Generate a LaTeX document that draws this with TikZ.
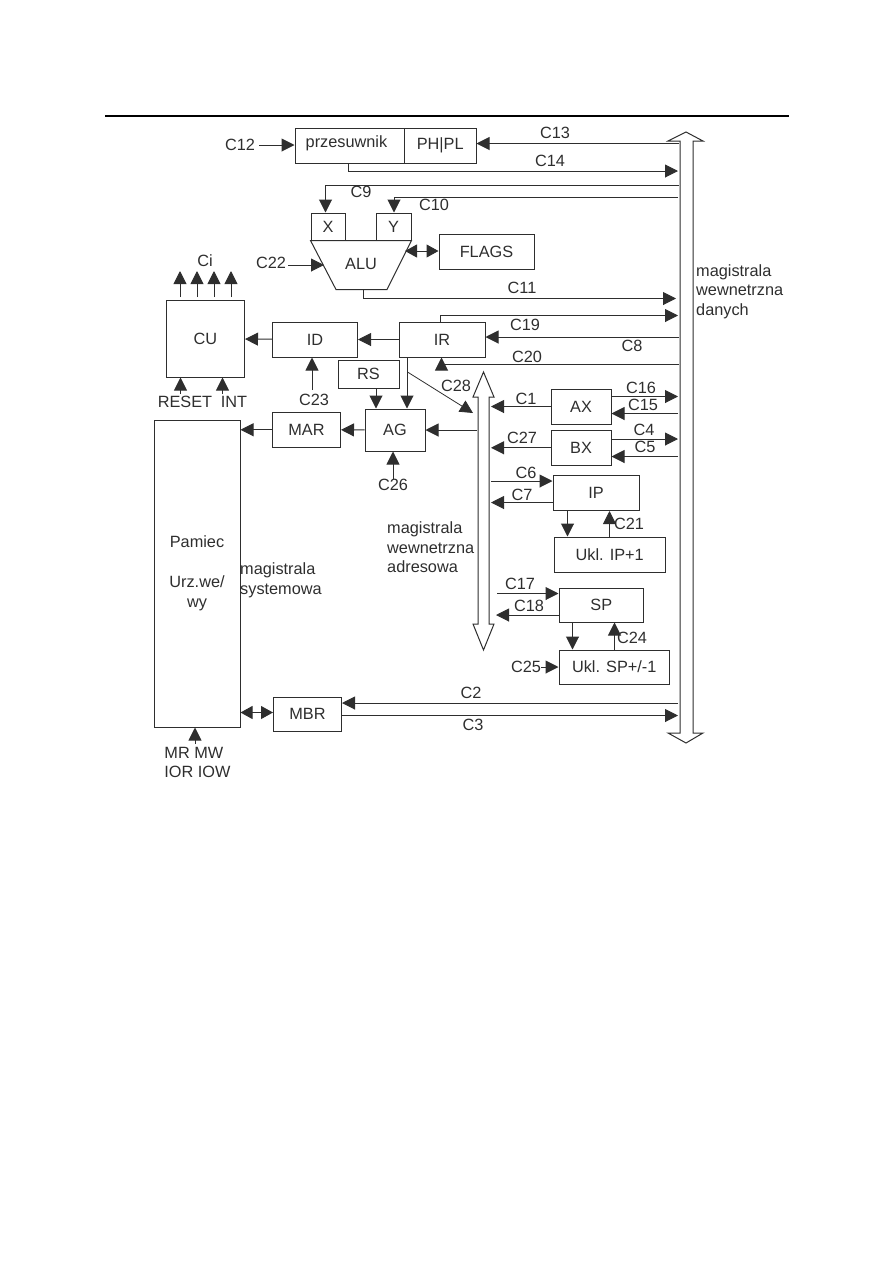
\documentclass[tikz,border=0pt]{standalone}
\usepackage{fontspec}
\setmainfont{Liberation Sans}
\usetikzlibrary{arrows.meta}
\colorlet{ink}{black!82}
\tikzset{
	box/.style={draw=ink,line width=1pt,text=ink,inner sep=0pt,font=\fontsize{16.3}{19.5}\selectfont},
	lbl/.style={text=ink,inner sep=0pt,font=\fontsize{16.3}{19.5}\selectfont,align=center},
	txt/.style={lbl,align=left,anchor=west},
	conn/.style={draw=ink,line width=1pt},
	arr/.style={conn,-{Triangle[length=13pt,width=13pt]}},
	both/.style={conn,{Triangle[length=12pt,width=13pt]}-{Triangle[length=12pt,width=13pt]}},
	bus/.style={draw=ink,line width=1pt,line join=miter,fill=white}
}
\begin{document}
\begin{tikzpicture}[x=1pt,y=-1pt]
	\useasboundingbox (0,0) rectangle (893,1262);
	\coordinate (ruleleft) at (105,115.5);
	\coordinate (ruleright) at (789,115.5);
	\draw[black,line width=2pt] (ruleleft) -- (ruleright);

	\draw[bus] (680,141) -- (668,141) -- (686,132) -- (703,141) -- (693,141) -- (693,733) -- (703,733) -- (686,743) -- (668,733) -- (680,733) -- cycle;
	\draw[bus] (478,397) -- (473,397) -- (483.5,372) -- (494,397) -- (489,397) -- (489,624) -- (494,624) -- (483.5,650) -- (473,624) -- (478,624) -- cycle;
	\coordinate (busd) at (679,0);
	\coordinate (busdr) at (678,0);
	\coordinate (busa) at (491,0);
	\coordinate (busal) at (477,0);

	\node[box,minimum width=109.5,minimum height=35] (prz) at (349.75,145.5) {};
	\node[lbl] (prztxt) at (346.5,143) {przesuwnik};
	\node[box,minimum width=71.5,minimum height=35] (ph) at (440.25,145.5) {PH|PL};
	\node[box,minimum width=34,minimum height=27] (x) at (328,226.5) {X};
	\node[box,minimum width=35,minimum height=27] (y) at (393.5,226.5) {Y};
	\coordinate (alusw) at (336,289.5);
	\coordinate (aluse) at (387,289.5);
	\coordinate (aluw) at (324,265);
	\draw[conn,line join=miter] (x.south west) -- (alusw) -- (aluse) -- (y.south east) -- cycle;
	\node[lbl] (alu) at (361,264) {ALU};
	\node[box,minimum width=95,minimum height=35] (flags) at (486.5,251.5) {FLAGS};
	\node[box,minimum width=78,minimum height=76.5] (cu) at (205.5,338.75) {CU};
	\node[box,minimum width=85,minimum height=35] (id) at (315,339.5) {ID};
	\node[box,minimum width=86,minimum height=35] (ir) at (442,339.5) {IR};
	\node[box,minimum width=61,minimum height=27.5] (rs) at (368.5,374.25) {RS};
	\node[box,minimum width=68,minimum height=34.5] (mar) at (306.5,429.75) {MAR};
	\node[box,minimum width=60,minimum height=42] (ag) at (395,430) {AG};
	\node[box,minimum width=86,minimum height=306.5] (mem) at (197,573.75) {};
	\node[box,minimum width=68,minimum height=34.5] (mbr) at (307.5,714.25) {MBR};
	\node[box,minimum width=60,minimum height=35] (ax) at (581,406.5) {AX};
	\node[box,minimum width=60,minimum height=35.5] (bx) at (581,447.75) {BX};
	\node[box,minimum width=86,minimum height=35] (ip) at (596,493) {IP};
	\node[box,minimum width=110.5,minimum height=35.5] (uip) at (609.75,554.75) {Ukl. IP+1};
	\node[box,minimum width=84.5,minimum height=34] (sp) at (601.25,605) {SP};
	\node[box,minimum width=110.5,minimum height=34] (usp) at (614.25,667) {Ukl. SP+/-1};

	\node[lbl] (c12) at (240,145) {C12};
	\node[lbl] (c13) at (555,133) {C13};
	\node[lbl] (c14) at (550,161) {C14};
	\node[lbl] (c9) at (361,192) {C9};
	\node[lbl] (c10) at (434,205) {C10};
	\node[lbl] (c22) at (271,263) {C22};
	\node[lbl] (c11) at (522,288) {C11};
	\node[lbl] (c19) at (525,325) {C19};
	\node[lbl] (c8) at (632,346) {C8};
	\node[lbl] (c20) at (527,357) {C20};
	\node[lbl] (c23) at (314,400) {C23};
	\node[lbl] (ci) at (205,261) {Ci};
	\node[lbl] (reset) at (185,402) {RESET};
	\node[lbl] (int) at (234,402) {INT};
	\node[lbl] (c28) at (456,386) {C28};
	\node[lbl] (c26) at (393,485) {C26};
	\node[lbl] (c1) at (526,399) {C1};
	\node[lbl] (c27) at (522,438) {C27};
	\node[lbl] (c16) at (641,388) {C16};
	\node[lbl] (c15) at (643,405) {C15};
	\node[lbl] (c4) at (644,430) {C4};
	\node[lbl] (c5) at (645,447) {C5};
	\node[lbl] (c6) at (526,473) {C6};
	\node[lbl] (c7) at (522,495) {C7};
	\node[lbl] (c21) at (629,524) {C21};
	\node[lbl] (c17) at (520,584) {C17};
	\node[lbl] (c18) at (529,606) {C18};
	\node[lbl] (c24) at (632,638) {C24};
	\node[lbl] (c25) at (526,667) {C25};
	\node[lbl] (c2) at (471,693) {C2};
	\node[lbl] (c3) at (473,725) {C3};
	\node[lbl] (pam) at (197,542) {Pamiec};
	\node[lbl] (urz) at (197,593.5) {Urz.we/\\wy};
	\node[lbl,align=left] (mrw) at (197.5,762.5) {MR MW\\IOR IOW};
	\node[txt] (sysb) at (240,580.5) {magistrala\\systemowa};
	\node[txt] (adrb) at (387,547.5) {magistrala\\wewnetrzna\\adresowa};
	\node[txt] (datb) at (696,291.5) {magistrala\\wewnetrzna\\danych};

	\coordinate (xa) at (325.5,185);
	\coordinate (ya) at (394,197);
	\coordinate (pza) at (348,171);
	\coordinate (ala) at (363,298.5);
	\coordinate (ira) at (440.5,315.5);
	\coordinate (irb) at (441.5,364);
	\coordinate (d1) at (407.5,372);
	\coordinate (d2) at (473,413);
	\coordinate (fl) at (405,251);
	\coordinate (i1) at (567.5,0);
	\coordinate (i2) at (609.5,0);
	\coordinate (s1) at (572.5,0);
	\coordinate (s2) at (614.5,0);
	\coordinate (ig) at (407,0);
	\coordinate (rg) at (376,0);
	\coordinate (c17a) at (497,593.5);
	\coordinate (c18a) at (496,615);
	\coordinate (c23a) at (312,390);
	\coordinate (k1) at (180,297);
	\coordinate (k2) at (197,297);
	\coordinate (k3) at (214,297);
	\coordinate (k4) at (231,297);
	\coordinate (r1) at (180.5,394);
	\coordinate (r2) at (222.5,394);
	\coordinate (mw) at (195,744);

	\draw[arr] (c12.east) ++(4,0) -- (c12.east -| prz.west);
	\draw[arr] (busd |- 0,143.5) -- (ph.east |- 0,143.5);
	\draw[arr] (prz.south -| pza) -- (pza) -- (pza -| busdr);
	\draw[conn] (xa -| busd) -- (xa);
	\draw[arr] (xa) -- (xa |- x.north);
	\draw[conn] (ya -| busdr) -- (ya);
	\draw[arr] (ya) -- (ya |- y.north);
	\draw[both] (fl) -- (fl -| flags.west);
	\draw[arr] (c22.east) ++(2,2) -- (aluw);
	\draw[arr] (aluse -| ala) -- (ala) -- (ala -| 676,0);
	\draw[arr] (ir.north -| ira) -- (ira) -- (ira -| busdr);
	\draw[arr] (busd |- 0,337) -- (ir.east |- 0,337);
	\draw[conn] (irb -| busd) -- (irb);
	\draw[arr] (irb) -- (irb |- ir.south);
	\draw[arr] (ir) -- (id);
	\draw[arr] (id) -- (cu);
	\draw[arr] (c23a) -- (c23a |- id.south);
	\draw[arr] (k1) -- (k1 |- 0,271);
	\draw[arr] (k2) -- (k2 |- 0,271);
	\draw[arr] (k3) -- (k3 |- 0,271);
	\draw[arr] (k4) -- (k4 |- 0,271);
	\draw[arr] (r1) -- (r1 |- cu.south);
	\draw[arr] (r2) -- (r2 |- cu.south);
	\draw[arr] (rg |- rs.south) -- (rg |- ag.north);
	\draw[arr] (ig |- ir.south) -- (ig |- ag.north);
	\draw[conn,-{Triangle[length=13pt,width=13pt]},line width=.8pt] (d1) -- (d2);
	\draw[arr] (busal |- ag.east) -- (ag.east);
	\draw[arr] (ag) -- (mar);
	\draw[arr] (mar) -- (mem.east |- mar);
	\draw[arr] (c26.north) -- (c26.north |- ag.south);
	\draw[arr] (ax.west) -- (busa |- ax.west);
	\draw[arr] (bx.west) -- (busa |- bx.west);
	\draw[arr] (ax.east |- 0,396.5) -- (busdr |- 0,396.5);
	\draw[arr] (busdr |- 0,413.5) -- (ax.east |- 0,413.5);
	\draw[arr] (bx.east |- 0,439) -- (busdr |- 0,439);
	\draw[arr] (busdr |- 0,456.5) -- (bx.east |- 0,456.5);
	\draw[arr] (busa |- 0,481) -- (ip.west |- 0,481);
	\draw[arr] (ip.west |- 0,502.5) -- (busa |- 0,502.5);
	\draw[arr] (i1 |- ip.south) -- (i1 |- uip.north);
	\draw[arr] (i2 |- uip.north) -- (i2 |- ip.south);
	\draw[arr] (c17a) -- (c17a -| sp.west);
	\draw[arr] (c18a -| sp.west) -- (c18a);
	\draw[arr] (s1 |- sp.south) -- (s1 |- usp.north);
	\draw[arr] (s2 |- usp.north) -- (s2 |- sp.south);
	\draw[arr] (c25.east) -- (usp.west);
	\draw[arr] (busdr |- 0,703) -- (mbr.east |- 0,703);
	\draw[arr] (mbr.east |- 0,715.5) -- (busdr |- 0,715.5);
	\draw[both] (mem.east |- 0,712.5) -- (mbr.west |- 0,712.5);
	\draw[arr] (mw) -- (mw |- mem.south);
\end{tikzpicture}
\end{document}
